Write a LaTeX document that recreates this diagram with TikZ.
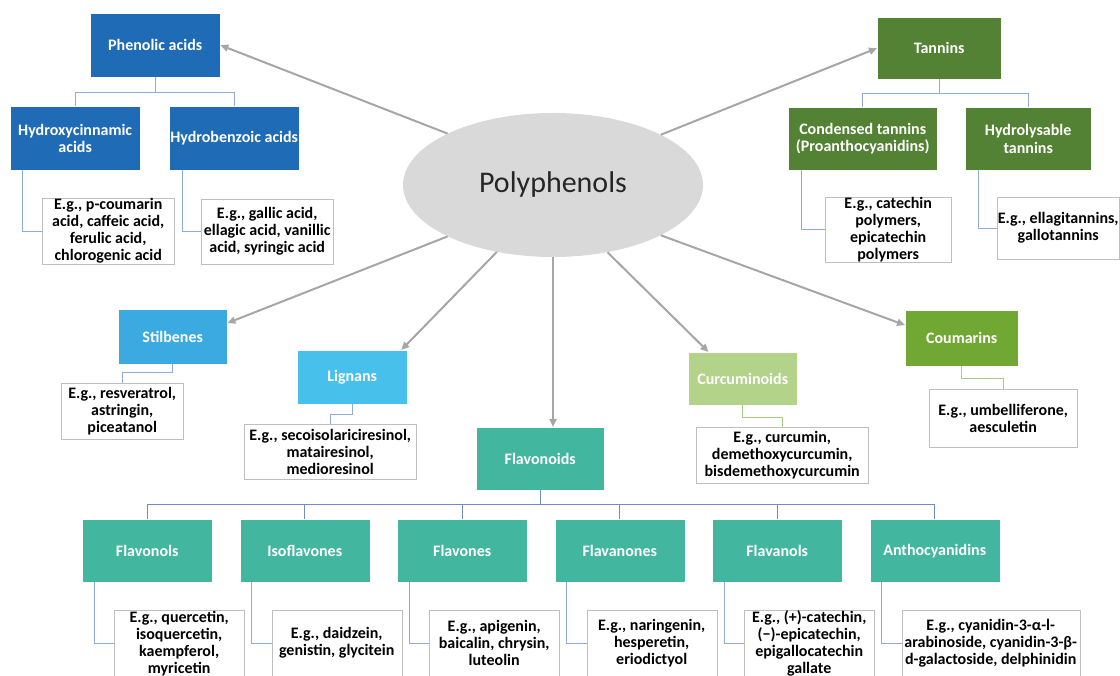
\documentclass[tikz,border=0pt]{standalone}
\usepackage{fontspec}
\setmainfont{Carlito}
\usepackage{xcolor}
\usetikzlibrary{arrows.meta,positioning,shapes.geometric,calc}
\definecolor{phblue}{HTML}{1F6BB6}
\definecolor{tngreen}{HTML}{548235}
\definecolor{stblue}{HTML}{3AAAE1}
\definecolor{lgblue}{HTML}{48C0EC}
\definecolor{cugreen}{HTML}{B3D38B}
\definecolor{cmgreen}{HTML}{70A833}
\definecolor{flteal}{HTML}{42B69F}
\definecolor{polygray}{HTML}{D9D9D9}
\definecolor{arrgray}{HTML}{A6A6A6}
\definecolor{exgray}{HTML}{BFBFBF}
\definecolor{lnblue}{HTML}{8FAADC}
\definecolor{lndblue}{HTML}{6F8BC8}
\definecolor{lngreen}{HTML}{A9CC86}

\begin{document}
\begin{tikzpicture}[
  x=1pt, y=-1pt,
  cat/.style={rectangle, draw=white, fill=#1, text=white, inner sep=0pt,
              anchor=north west, align=center,
              font=\fontsize{16}{17.5}\selectfont\bfseries},
  exbox/.style={rectangle, draw=exgray, fill=white, text=black, inner sep=0pt,
              anchor=north west, align=center,
              font=\fontsize{16}{17}\selectfont\bfseries},
  dims/.style 2 args={minimum width=#1pt, minimum height=#2pt},
  arrow/.style={-{Triangle[length=8pt,width=7pt]}, line width=2pt, arrgray},
  link/.style={draw=#1, line width=1pt},
]
\useasboundingbox (0,0) rectangle (1120,676);

% Centre
\node[ellipse, fill=polygray, minimum width=300pt, minimum height=144pt,
      inner sep=0pt, font=\fontsize{30}{36}\selectfont, text=black!85] (poly) at (553,185) {Polyphenols};

% Phenolic acids
\node[cat=phblue, dims={130}{64}] (phen) at (90,13) {Phenolic acids};
\node[cat=phblue, dims={130}{64}] (hcin) at (10,106) {Hydroxycinnamic\\acids};
\node[cat=phblue, dims={130}{64}] (hben) at (169,106) {Hydrobenzoic acids};
\node[exbox, dims={132}{66}] (hcinex) at (42,198) {E.g., p-coumarin\\acid, caffeic acid,\\ferulic acid,\\chlorogenic acid};
\node[exbox, dims={132}{65}] (hbenex) at (201,199) {E.g., gallic acid,\\ellagic acid, vanillic\\acid, syringic acid};

% Tannins
\node[cat=tngreen, dims={124}{62}] (tann) at (877,17) {Tannins};
\node[cat=tngreen, dims={149}{63}] (cond) at (788,107) {Condensed tannins\\(Proanthocyanidins)};
\node[cat=tngreen, dims={126}{63}] (hydr) at (965,107) {Hydrolysable\\tannins};
\node[exbox, dims={126}{62}] (condex) at (825,197) {E.g., catechin\\polymers,\\epicatechin\\polymers};
\node[exbox, dims={122}{62}] (hydrex) at (997,197) {E.g., ellagitannins,\\gallotannins};

% Stilbenes, lignans, curcuminoids, coumarins
\node[cat=stblue, dims={109}{55}] (stil) at (118,309) {Stilbenes};
\node[exbox, dims={122}{56}] (stilex) at (61,383) {E.g., resveratrol,\\astringin,\\piceatanol};
\node[cat=lgblue, dims={110}{54}] (lign) at (297,350) {Lignans};
\node[exbox, dims={172}{55}] (lignex) at (244,424) {E.g., secoisolariciresinol,\\matairesinol,\\medioresinol};
\node[cat=cugreen, dims={109}{53}] (curc) at (688,352) {Curcuminoids};
\node[exbox, dims={172}{56}] (curcex) at (696,427) {E.g., curcumin,\\demethoxycurcumin,\\bisdemethoxycurcumin};
\node[cat=cmgreen, dims={113}{56}] (coum) at (905,310) {Coumarins};
\node[exbox, dims={148}{58}] (coumex) at (929,389) {E.g., umbelliferone,\\aesculetin};

% Flavonoids
\node[cat=flteal, dims={128}{63}] (flav) at (476,427) {Flavonoids};
\node[cat=flteal, dims={130}{63}] (flvl) at (82,519) {Flavonols};
\node[cat=flteal, dims={130}{63}] (isof) at (239.5,519) {Isoflavones};
\node[cat=flteal, dims={130}{63}] (flvo) at (397,519) {Flavones};
\node[cat=flteal, dims={130}{63}] (flvn) at (554.5,519) {Flavanones};
\node[cat=flteal, dims={130}{63}] (flvt) at (712,519) {Flavanols};
\node[cat=flteal, dims={130}{63}] (anth) at (869.5,519) {Anthocyanidins};
\node[exbox, dims={130}{66}] (flvlex) at (114,610) {E.g., quercetin,\\isoquercetin,\\kaempferol,\\myricetin};
\node[exbox, dims={130}{66}] (isofex) at (271.5,610) {E.g., daidzein,\\genistin, glycitein};
\node[exbox, dims={130}{66}] (flvoex) at (429,610) {E.g., apigenin,\\baicalin, chrysin,\\luteolin};
\node[exbox, dims={130}{66}] (flvnex) at (586.5,610) {E.g., naringenin,\\hesperetin,\\eriodictyol};
\node[exbox, dims={130}{66}] (flvtex) at (744,610) {E.g., (+)-catechin,\\(−)-epicatechin,\\epigallocatechin\\gallate};
\node[exbox, dims={178}{66}] (anthex) at (901.5,610) {E.g., cyanidin-3-α-l-\\arabinoside, cyanidin-3-β-\\d-galactoside, delphinidin};

% Arrows
\draw[arrow] (poly.154) -- (phen.east);
\draw[arrow] (poly.25) -- (tann.west);
\draw[arrow] (poly.206) -- (stil.14);
\draw[arrow] (poly.230) -- (lign.29);
\draw[arrow] (poly.south) -- (poly.south |- flav.north);
\draw[arrow] (poly.309) -- (curc.142);
\draw[arrow] (poly.335) -- (coum.167);

% Tree links
\draw[link=lnblue] (phen.south) -- ++(0,15) -| (hcin.north);
\draw[link=lnblue] (phen.south) ++(0,15) -| (hben.north);
\draw[link=lnblue] (hcin.south west) ++(12,0) |- (hcinex.west);
\draw[link=lnblue] (hben.south west) ++(13,0) |- (hbenex.west);
\draw[link=lnblue] (tann.south) -- ++(0,14) -| (cond.north);
\draw[link=lnblue] (tann.south) ++(0,14) -| (hydr.north);
\draw[link=lnblue] (cond.south west) ++(13,0) |- (condex.west);
\draw[link=lnblue] (hydr.south west) ++(13,0) |- (hydrex.west);
\draw[link=lnblue] (stil.south) -- ++(0,8) -| (stilex.north);
\draw[link=lnblue] (lign.south) -- ++(0,10) -| (lignex.north);
\draw[link=lngreen] (curc.south) -- ++(0,12) -| (curcex.north);
\draw[link=lngreen] (coum.south) -- ++(0,12) -| (coumex.north);
\draw[link=lndblue] (flav.south) -- ++(0,14) -| (flvl.north);
\draw[link=lndblue] (flav.south) ++(0,14) -| (isof.north);
\draw[link=lndblue] (flav.south) ++(0,14) -| (flvo.north);
\draw[link=lndblue] (flav.south) ++(0,14) -| (flvn.north);
\draw[link=lndblue] (flav.south) ++(0,14) -| (flvt.north);
\draw[link=lndblue] (flav.south) ++(0,14) -| (anth.north);
\draw[link=lnblue] (flvl.south west) ++(12,0) |- (flvlex.west);
\draw[link=lnblue] (isof.south west) ++(12,0) |- (isofex.west);
\draw[link=lnblue] (flvo.south west) ++(12,0) |- (flvoex.west);
\draw[link=lnblue] (flvn.south west) ++(12,0) |- (flvnex.west);
\draw[link=lnblue] (flvt.south west) ++(12,0) |- (flvtex.west);
\draw[link=lnblue] (anth.south west) ++(12,0) |- (anthex.west);

\end{tikzpicture}
\end{document}
